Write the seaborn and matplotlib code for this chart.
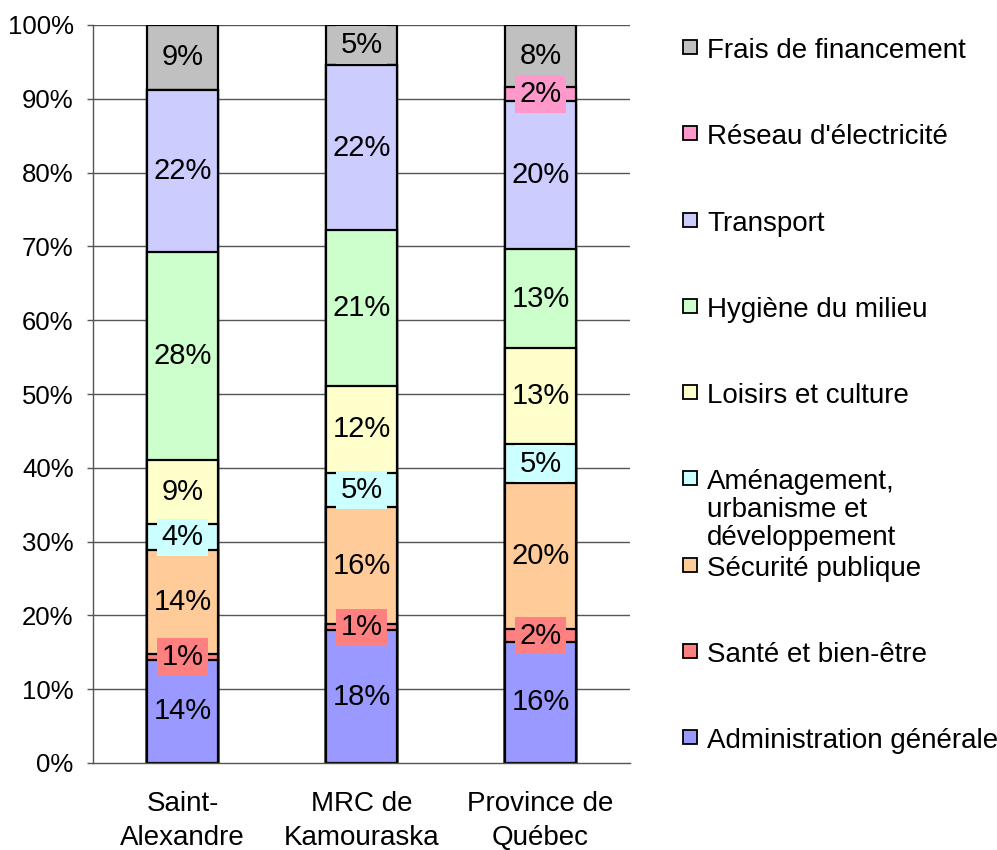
import numpy as np
import pandas as pd
import seaborn as sns
import matplotlib.pyplot as plt
from matplotlib.patches import Rectangle

regions = ["Saint-\nAlexandre", "MRC de\nKamouraska", "Province de\nQuébec"]

# bottom to top
categories = [
    "Administration générale",
    "Santé et bien-être",
    "Sécurité publique",
    "Aménagement,\nurbanisme et\ndéveloppement",
    "Loisirs et culture",
    "Hygiène du milieu",
    "Transport",
    "Réseau d'électricité",
    "Frais de financement",
]
colors = ["#9999FF", "#FF8080", "#FFCC99", "#CCFFFF", "#FFFFCC",
          "#CCFFCC", "#CCCCFF", "#FF99CC", "#C0C0C0"]

# percent of spending, one list per region (same order as categories)
saint_alexandre = [14.0, 0.8, 14.0, 3.6, 8.6, 28.2, 22.0, 0.0, 8.8]
mrc_kamouraska = [18.0, 0.8, 15.9, 4.6, 11.8, 21.1, 22.4, 0.0, 5.4]
province_quebec = [16.4, 1.7, 19.8, 5.3, 13.0, 13.4, 20.1, 1.9, 8.4]

vals = np.array([saint_alexandre, mrc_kamouraska, province_quebec])
cum = np.cumsum(vals, axis=1)

sns.set_theme(style="white")
plt.rcParams['font.family'] = ['Liberation Sans', 'DejaVu Sans']
plt.rcParams['text.color'] = 'black'
plt.rcParams['xtick.color'] = 'black'
plt.rcParams['ytick.color'] = 'black'

W, H = 997, 850
fig = plt.figure(figsize=(W / 100, H / 100), dpi=100)
ax = fig.add_axes([93 / W, 1 - 763 / H, (630 - 93) / W, (763 - 25) / H])

# gridlines
for g in range(10, 101, 10):
    ax.axhline(g, color="#555555", lw=1, zorder=0)

# stacked bars: draw cumulative totals from the top down
for j in range(len(categories) - 1, -1, -1):
    df = pd.DataFrame({"region": regions, "cum": cum[:, j]})
    sns.barplot(data=df, x="region", y="cum", color=colors[j], saturation=1,
                width=0.4, edgecolor="black", linewidth=1.6, errorbar=None,
                ax=ax, zorder=2)

# data labels
for i in range(len(regions)):
    for j in range(len(categories)):
        v = vals[i, j]
        if v <= 0:
            continue
        ax.text(i, cum[i, j] - v / 2, f"{v:.0f}%", ha="center", va="center",
                fontsize=21, zorder=5,
                bbox=dict(boxstyle="square,pad=0.16", fc=colors[j], ec="none"))

ax.set_xlim(-0.5, 2.5)
ax.set_ylim(0, 100)
ax.set_yticks(range(0, 101, 10))
ax.set_yticklabels([f"{t}%" for t in range(0, 101, 10)], fontsize=18.5)
ax.set_xticks(range(len(regions)))
ax.set_xticklabels(regions, fontsize=20)
for t in ax.get_xticklabels():
    t.set_linespacing(1.4)
ax.set_xlabel("")
ax.set_ylabel("")
ax.tick_params(axis="y", length=4, width=1, color="#555555", pad=10, left=True)
ax.tick_params(axis="x", length=0, pad=20)
for s in ["top", "right"]:
    ax.spines[s].set_visible(False)
for s in ["left", "bottom"]:
    ax.spines[s].set_color("#555555")
    ax.spines[s].set_linewidth(1)

# legend (top to bottom, reversed order)
LFS = 20
y0, dy = 47, 86.25
for k, j in enumerate(range(len(categories) - 1, -1, -1)):
    yc = y0 + k * dy
    fig.add_artist(Rectangle((683 / W, 1 - (yc + 7) / H), 14 / W, 14 / H,
                             transform=fig.transFigure, fc=colors[j],
                             ec="black", lw=1.3))
    fig.text(707 / W, 1 - (yc - 0.32 * LFS * 100 / 72) / H, categories[j],
             ha="left", va="top", fontsize=LFS, linespacing=1.1)

fig.savefig("out.png", dpi=100)
